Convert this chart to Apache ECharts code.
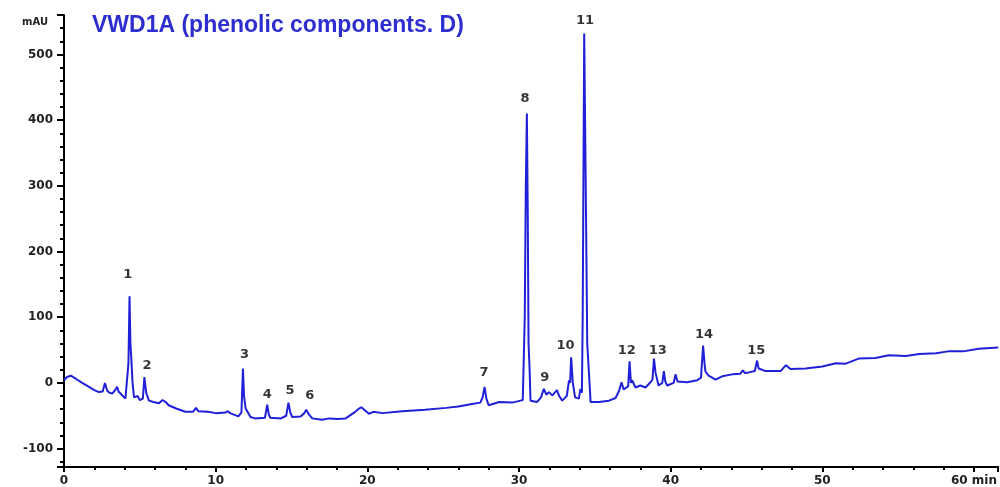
<!DOCTYPE html>
<html>
<head>
<meta charset="utf-8">
<title>VWD1A (phenolic components. D)</title>
<script src="https://cdn.jsdelivr.net/npm/echarts@6/dist/echarts.min.js"></script>
<style>
  html, body { margin: 0; padding: 0; background: #fff; }
  #chart { width: 1000px; height: 487px; }
</style>
</head>
<body>
<div id="chart"></div>
<script>
// trace: [retention time (min), signal (mAU)]
const traceStart = [
  [0, 4], [0.2, 9], [0.45, 11], [0.8, 6], [1.2, 0], [1.65, -6], [2.0, -11], [2.3, -14],
  [2.55, -13], [2.7, 0], [2.85, -12], [3.0, -15], [3.2, -16], [3.4, -10], [3.5, -6],
  [3.6, -13], [3.7, -12], [3.8, -18], [4.05, -24], [4.15, -22], [4.25, 30], [4.32, 132],
  [4.38, 60], [4.45, 32], [4.52, 0], [4.62, -22], [4.72, -24], [4.85, -20], [5.0, -26],
  [5.2, -24], [5.3, 9], [5.42, -15], [5.6, -27], [5.9, -29], [6.26, -31], [6.5, -26],
  [6.6, -24], [6.75, -30], [6.9, -34], [7.4, -39], [8.0, -44], [8.5, -44], [8.7, -38],
  [8.85, -43], [9.5, -44], [10.0, -46]
];
const traceMiddle = [
  [10.66, -45], [10.8, -43], [10.95, -46], [11.5, -51], [11.7, -45], [11.75, -11],
  [11.8, 22], [11.87, -20], [11.98, -39], [12.3, -52], [12.6, -54], [13.25, -53],
  [13.4, -33], [13.5, -48], [13.6, -53], [14.3, -54], [14.65, -50], [14.8, -30],
  [14.92, -45], [15.05, -52], [15.6, -51], [15.85, -46], [15.97, -41], [16.15, -48],
  [16.37, -54], [17.0, -56], [17.5, -54], [18.0, -55], [18.57, -54], [19.2, -44],
  [19.4, -40], [19.6, -37], [19.8, -41], [20.1, -47], [20.4, -44], [21.0, -46],
  [22.3, -43], [23.8, -41], [25.2, -38], [26.0, -36], [26.9, -32], [27.45, -30],
  [27.6, -22], [27.73, -6], [27.85, -24], [28.0, -34], [28.7, -29], [29.55, -30], [30.1, -27]
];
const traceMain = [
  [30.25, -26], [30.38, 100], [30.45, 300], [30.52, 410], [30.58, 250], [30.63, 60],
  [30.7, 20], [30.76, -27], [31.2, -29], [31.45, -22], [31.64, -9], [31.8, -18],
  [31.97, -14], [32.2, -19], [32.5, -11], [32.65, -20], [32.85, -27], [33.15, -20],
  [33.3, 4], [33.37, 0], [33.44, 39], [33.55, 0], [33.7, -22], [33.95, -24], [34.05, -9],
  [34.15, -15], [34.2, 100], [34.3, 532], [34.4, 300], [34.5, 60], [34.58, 60], [34.65, 0],
  [34.72, -29], [35.27, -29], [35.93, -27], [36.37, -23], [36.6, -12], [36.76, 1],
  [36.9, -10], [36.98, -11], [37.2, -5], [37.29, 33], [37.38, 0], [37.46, 4], [37.68, -7],
  [38.0, -4], [38.34, -7], [38.67, 1], [38.8, 5], [38.9, 37], [39.0, 16], [39.2, -4],
  [39.45, 0], [39.55, 18], [39.65, 2], [39.77, -4], [40.2, 0], [40.32, 13], [40.45, 2], [40.54, 0]
];
const traceEnd = [
  [41.09, 1], [41.75, 4], [42.0, 8], [42.14, 57], [42.25, 25], [42.3, 17], [42.5, 11],
  [42.74, 8], [42.96, 5], [43.4, 10], [44.06, 13], [44.6, 14], [44.76, 19], [44.9, 15],
  [45.15, 16], [45.55, 18], [45.7, 34], [45.8, 22], [45.93, 19], [46.26, 18], [47.25, 18],
  [47.6, 27], [47.9, 21], [48.9, 22], [50.0, 25], [50.9, 30], [51.5, 29], [52.4, 37],
  [53.5, 38], [54.4, 42], [55.5, 41], [56.4, 44], [57.5, 45], [58.3, 48], [59.3, 48],
  [60.3, 52], [61.6, 54]
];

// peak numbers and where their labels sit (time, mAU)
const peakNames = ['1', '2', '3', '4', '5', '6', '7', '8', '9', '10', '11', '12', '13', '14', '15'];
const peakLabelTime = [4.2, 5.47, 11.9, 13.4, 14.9, 16.2, 27.7, 30.4, 31.7, 33.07, 34.35, 37.1, 39.15, 42.2, 45.65];
const peakLabelMAU = [165, 27, 43, -18, -12, -20, 15, 432, 8, 57, 552, 49, 49, 73, 49];

const trace = traceStart.concat(traceMiddle, traceMain, traceEnd);
const peakLabels = peakNames.map((n, i) => ({ name: n, value: [peakLabelTime[i], peakLabelMAU[i]] }));

const chart = echarts.init(document.getElementById('chart'));
const tickFont = { fontFamily: 'DejaVu Sans', fontWeight: 'bold', fontSize: 12, color: '#222' };

chart.setOption({
  animation: false,
  title: {
    text: 'VWD1A (phenolic components. D)',
    left: 87,
    top: 9,
    textStyle: { fontFamily: 'Liberation Sans', fontSize: 23, fontWeight: 'bold', color: '#2e2ed0' }
  },
  grid: { left: 64, right: 0, top: 15, bottom: 20 },
  xAxis: {
    type: 'value',
    min: 0,
    max: 61.6,
    interval: 10,
    splitLine: { show: false },
    axisLine: { onZero: false, lineStyle: { color: '#000', width: 2 } },
    axisTick: { length: 5, lineStyle: { color: '#000', width: 2 } },
    minorTick: { show: true, splitNumber: 5, length: 3, lineStyle: { color: '#000', width: 2 } },
    axisLabel: Object.assign({
      margin: 8,
      showMaxLabel: false,
      formatter: v => (v === 60 ? '60 min' : String(v))
    }, tickFont)
  },
  yAxis: {
    type: 'value',
    min: -128,
    max: 560,
    name: 'mAU',
    nameLocation: 'end',
    nameGap: -7,
    nameTextStyle: {
      fontFamily: 'DejaVu Sans', fontWeight: 'bold', fontSize: 10, color: '#222',
      align: 'right', verticalAlign: 'middle', padding: [0, 16, 0, 0]
    },
    splitLine: { show: false },
    axisLine: { show: true, onZero: false, lineStyle: { color: '#000', width: 2 } },
    axisTick: { show: true, length: 7, lineStyle: { color: '#000', width: 2 } },
    minorTick: { show: true, splitNumber: 5, length: 4, lineStyle: { color: '#000', width: 2 } },
    axisLabel: Object.assign({
      margin: 11,
      showMinLabel: false,
      showMaxLabel: false
    }, tickFont)
  },
  series: [
    {
      type: 'line',
      data: trace,
      showSymbol: false,
      lineStyle: { color: '#2020d8', width: 2 },
      z: 2
    },
    {
      type: 'scatter',
      data: peakLabels,
      symbolSize: 1,
      itemStyle: { color: 'transparent' },
      label: {
        show: true,
        position: 'inside',
        formatter: p => p.name,
        fontFamily: 'DejaVu Sans',
        fontWeight: 'bold',
        fontSize: 13,
        color: '#000'
      },
      z: 3
    }
  ]
});
</script>
</body>
</html>
